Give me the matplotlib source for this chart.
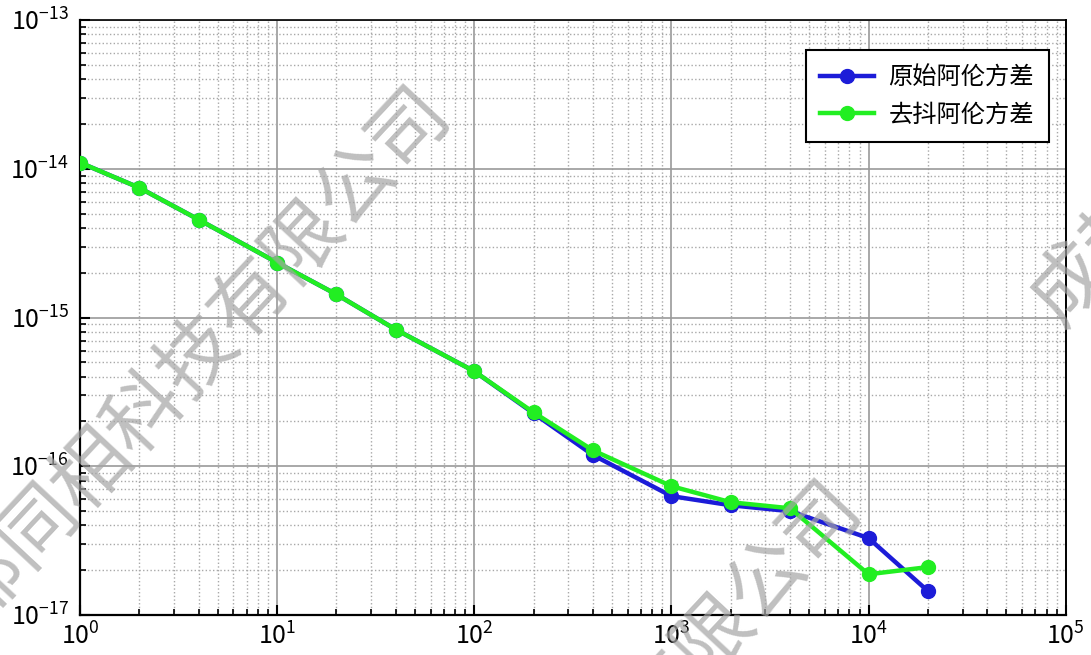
import matplotlib
matplotlib.use("Agg")
import matplotlib.pyplot as plt
from matplotlib.ticker import LogLocator, NullFormatter

plt.rcParams['font.family'] = ['Noto Sans CJK SC', 'DejaVu Sans']
plt.rcParams['mathtext.fontset'] = 'dejavusans'

# 数据
tau = [1, 2, 4, 10, 20, 40, 100, 200, 400, 1000, 2000, 4000, 10000, 20000]
adev_raw = [1.1e-14, 7.45e-15, 4.55e-15, 2.34e-15, 1.43e-15, 8.3e-16, 4.35e-16,
            2.27e-16, 1.19e-16, 6.3e-17, 5.47e-17, 4.99e-17, 3.29e-17, 1.45e-17]
adev_dejit = [1.1e-14, 7.45e-15, 4.55e-15, 2.34e-15, 1.43e-15, 8.3e-16, 4.35e-16,
              2.3e-16, 1.28e-16, 7.35e-17, 5.73e-17, 5.22e-17, 1.88e-17, 2.1e-17]
labels = ["原始阿伦方差", "去抖阿伦方差"]
watermark = "成都同相科技有限公司"

fig = plt.figure(figsize=(10.91, 6.55), dpi=100)
ax = fig.add_axes([0.0733, 0.061, 0.9035, 0.9085])

ax.plot(tau, adev_raw, color='#1c1cd8', lw=3.2, marker='o', ms=10, label=labels[0], zorder=3)
ax.plot(tau, adev_dejit, color='#22ee22', lw=3.2, marker='o', ms=10, label=labels[1], zorder=4)

ax.set_xscale('log')
ax.set_yscale('log')
ax.set_xlim(1, 1e5)
ax.set_ylim(1e-17, 1e-13)

ax.xaxis.set_minor_locator(LogLocator(base=10, subs=range(2, 10), numticks=20))
ax.yaxis.set_minor_locator(LogLocator(base=10, subs=range(2, 10), numticks=20))
ax.xaxis.set_minor_formatter(NullFormatter())
ax.yaxis.set_minor_formatter(NullFormatter())

ax.grid(which='major', color='#9a9a9a', lw=1.2, ls='-')
ax.grid(which='minor', color='#a8a8a8', lw=1.0, ls=':')
ax.set_axisbelow(True)

ax.tick_params(which='both', direction='in', top=False, right=False, colors='black')
ax.tick_params(which='major', length=7, width=1.5, labelsize=18)
ax.tick_params(axis='x', which='major', pad=6)
ax.tick_params(axis='y', which='major', pad=8)
ax.tick_params(which='minor', length=4, width=1.2)
for s in ax.spines.values():
    s.set_linewidth(1.6)
    s.set_color('black')
ax.spines['top'].set_linewidth(1.2)
ax.spines['right'].set_linewidth(1.4)

leg = ax.legend(loc='upper right', fontsize=17.5, fancybox=False, edgecolor='black',
                framealpha=1, borderpad=0.6, handlelength=2.2, labelspacing=0.45,
                handletextpad=0.6, bbox_to_anchor=(0.995, 0.97))
leg.get_frame().set_linewidth(1.5)

# 水印
wm = dict(color='#a4a4a4', alpha=0.7, fontsize=56, rotation=47, fontweight='light',
          ha='center', va='center', transform=fig.transFigure, zorder=10)
fig.text(0.158, 0.412, watermark, **wm)
fig.text(0.535, -0.19, watermark, **wm)
fig.text(1.20, 0.955, watermark, **wm)

fig.savefig("out.png", dpi=100)
